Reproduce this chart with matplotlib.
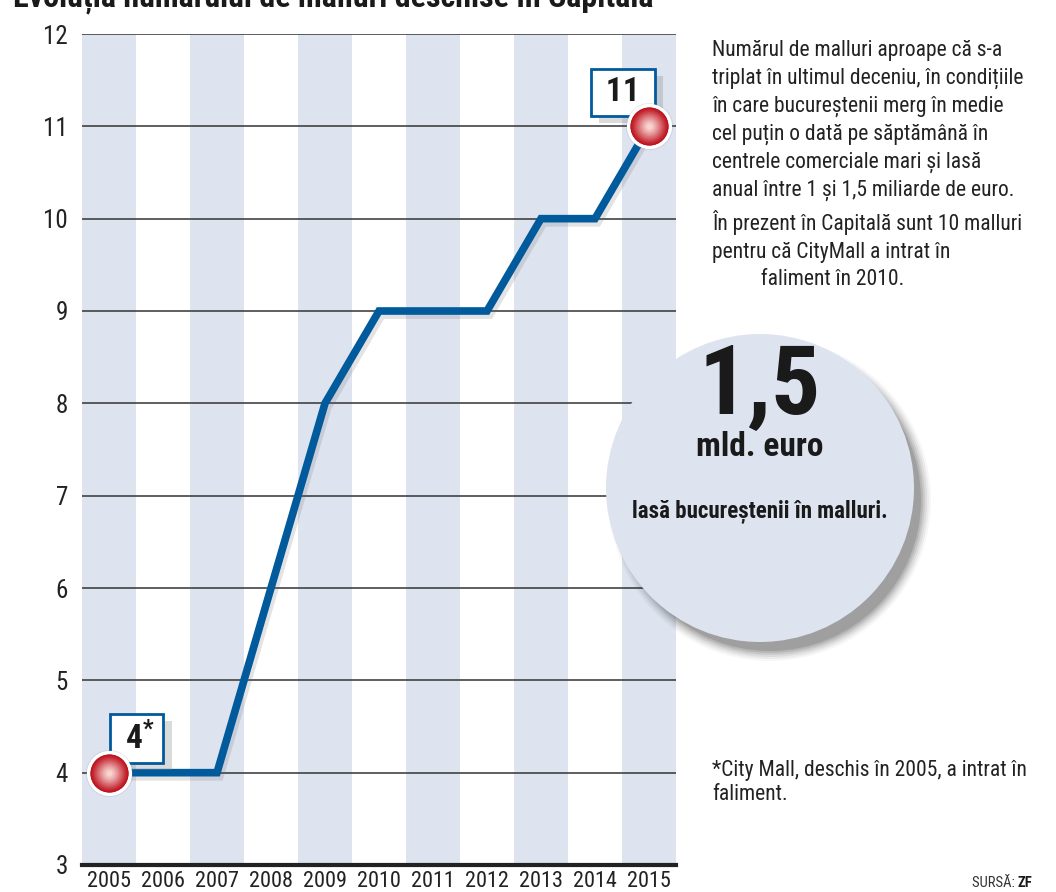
import matplotlib
matplotlib.use("Agg")
import matplotlib.pyplot as plt
import matplotlib.patheffects as pe
from matplotlib.patches import Circle
import numpy as np

years = [2005, 2006, 2007, 2008, 2009, 2010, 2011, 2012, 2013, 2014, 2015]
malls = [4, 4, 4, 6, 8, 9, 9, 9, 10, 10, 11]
yticks = [3, 4, 5, 6, 7, 8, 9, 10, 11, 12]

title = "Evoluția numărului de malluri deschise în Capitală"
side_text = ("Numărul de malluri aproape că s-a\n"
             "triplat în ultimul deceniu, în condițiile\n"
             "în care bucureștenii merg în medie\n"
             "cel puțin o dată pe săptămână în\n"
             "centrele comerciale mari și lasă\n"
             "anual între 1 și 1,5 miliarde de euro.\n"
             "În prezent în Capitală sunt 10 malluri\n"
             "pentru că CityMall a intrat în\n"
             "          faliment în 2010.")
note = "*City Mall, deschis în 2005, a intrat în\nfaliment."

FONT = ['Liberation Sans Narrow', 'Roboto Condensed', 'Liberation Sans', 'DejaVu Sans']
plt.rcParams['font.family'] = FONT
plt.rcParams['mathtext.fontset'] = 'custom'
plt.rcParams['mathtext.rm'] = 'Roboto Condensed:bold'
plt.rcParams['mathtext.default'] = 'rm'

W, H = 1056, 892
fig = plt.figure(figsize=(W / 100, H / 100), dpi=100)
fig.patch.set_facecolor('white')

ax = fig.add_axes([82 / W, 1 - 865 / H, (676 - 82) / W, (865 - 34) / H])
ax.set_xlim(years[0] - 0.5, years[-1] + 0.5)
ax.set_ylim(3, 12)

band = '#dde3ef'
for i, yr in enumerate(years):
    if i % 2 == 0:
        ax.axvspan(yr - 0.5, yr + 0.5, color=band, lw=0, zorder=0)
for y in yticks[1:]:
    ax.axhline(y, color='#333333', lw=1.1, zorder=1)

ax.plot(years, malls, color='#005a9c', lw=5.5, solid_joinstyle='miter', zorder=3,
        path_effects=[pe.SimpleLineShadow(offset=(2, -3), shadow_color='#666666', alpha=0.18),
                      pe.Normal()])

box = dict(boxstyle='square,pad=0.22', fc='white', ec='#005a9c', lw=2)
shadow = [pe.withSimplePatchShadow(offset=(6, -5), shadow_rgbFace='#888888', alpha=0.3)]
t1 = ax.annotate(" 11 ", xy=(years[-1], malls[-1]), xytext=(-19, 24.5), textcoords='offset points',
                 ha='center', va='center', fontsize=24, fontweight='bold', color='#1a1a1a',
                 bbox=box, zorder=9)
t1.get_bbox_patch().set_path_effects(shadow)
t2 = ax.annotate(" 4$^{*}$ ", xy=(years[0], malls[0]), xytext=(20, 24.5), textcoords='offset points',
                 ha='center', va='center', fontsize=24, fontweight='bold', color='#1a1a1a',
                 bbox=box, zorder=9)
t2.get_bbox_patch().set_path_effects(shadow)

# red glossy balls on first and last point
ends_x = [years[0], years[-1]]
ends_y = [malls[0], malls[-1]]
ax.scatter(ends_x, ends_y, s=1150, color='#888888', alpha=0.18, lw=0, zorder=10)
ax.scatter(ends_x, ends_y, s=900, color='#b80f1c', edgecolor='white', linewidth=2.5, zorder=11)
dark = np.array([0.74, 0.05, 0.10])
light = np.array([0.99, 0.90, 0.88])
n = 14
for k in range(1, n):
    f = k / n
    col = dark + (light - dark) * f ** 1.3
    ax.scatter(ends_x, ends_y, s=820 * (1 - f) ** 1.4, color=col, lw=0, zorder=11 + k * 0.01)

ax.set_xticks(years)
ax.set_xticklabels([str(y) for y in years], fontsize=16, color='#222222')
ax.set_yticks(yticks)
ax.set_yticklabels([str(y) for y in yticks], fontsize=18, color='#222222')
ax.tick_params(length=0, pad=10)
ax.tick_params(axis='x', pad=4)
for s in ['top', 'right', 'left']:
    ax.spines[s].set_visible(False)
ax.spines['bottom'].set_linewidth(3)
ax.spines['bottom'].set_color('#222222')

# overlay in pixel coordinates for the call-out circle and side texts
ov = fig.add_axes([0, 0, 1, 1])
ov.set_xlim(0, W)
ov.set_ylim(H, 0)
ov.axis('off')

cx, cy, r = 760, 488, 154
for k, a in enumerate([0.04, 0.06, 0.08, 0.1, 0.13, 0.17]):
    ov.add_patch(Circle((cx + 10, cy + 12), r + 7 - k * 2, color='#333333', alpha=a, lw=0))
ov.add_patch(Circle((cx, cy), r, color='#dde3ef', lw=0))
ov.text(cx, 388, "1,5", ha='center', va='center', fontsize=70, fontweight='bold', color='#1a1a1a')
ov.text(cx, 447, "mld. euro", ha='center', va='center', fontsize=24, fontweight='bold', color='#1a1a1a')
ov.text(cx, 512, "lasă bucureștenii în malluri.", ha='center', va='center', fontsize=16.5,
        fontweight='bold', color='#1a1a1a')

ov.text(333, -2, title, ha='center', va='center', fontsize=23, fontweight='bold', color='#1a1a1a')
ov.text(712, 40, side_text, ha='left', va='top', fontsize=15.5, color='#222222', linespacing=1.42)
ov.text(712, 760, note, ha='left', va='top', fontsize=15.5, color='#222222', linespacing=1.2)
ov.text(1018, 883, "SURSĂ: ", ha='right', va='center', fontsize=10.5, color='#333333')
ov.text(1018, 883, "ZF", ha='left', va='center', fontsize=10.5, fontweight='bold', color='#1a1a1a')

fig.savefig("out.png", dpi=100)
